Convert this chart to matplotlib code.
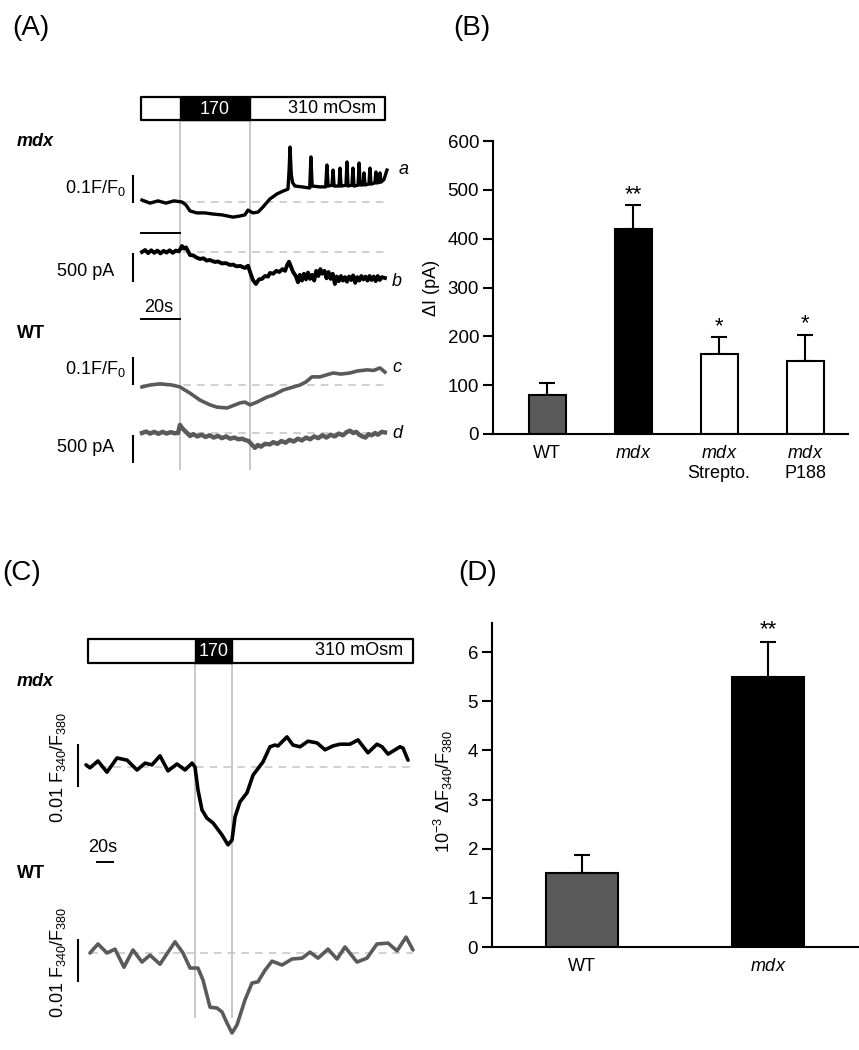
import numpy as np
import matplotlib.pyplot as plt

plt.rcParams['font.family'] = ['Liberation Sans', 'DejaVu Sans']
plt.rcParams['mathtext.fontset'] = 'custom'
plt.rcParams['mathtext.rm'] = 'Liberation Sans'
plt.rcParams['mathtext.it'] = 'Liberation Sans:italic'
plt.rcParams['mathtext.bf'] = 'Liberation Sans:bold'

W, H = 859, 1050
GREY = '#5a5a5a'
LIGHT = '#c4c4c4'
FS = 13

# ---------------- data ----------------
# panel A, time in s, fluorescence in F/F0, current in pA (relative to baseline)
solA = [-0.5, 18.5, 52.7, 118.5]   # bar start, 170 on, 170 off, bar end
ta = [0, 3.9, 7.8, 11.7, 15.6, 19.5, 21.5, 23.4, 26.8, 30.7, 34.6, 39, 44.4, 47.8,
      50.2, 51.7, 54.1, 56.6, 59, 62.4, 65.9, 68.8, 71.2, 71.8, 72.2, 72.8, 73.4, 74.6,
      78, 81.8, 82.4, 83.0, 86.8, 89.6, 90.2, 90.8, 92.7, 93.2, 93.7, 96.1, 96.6, 97.1,
      99.5, 100, 100.5, 102.4, 102.9, 103.4, 105.4, 105.9, 106.4, 107.8, 108.3, 108.8,
      110.7, 111.2, 111.7, 113.6, 114.1, 114.6, 115.6, 116.1, 116.6, 118, 119.5]
va = [0.007, -0.004, 0.004, -0.004, 0.004, 0, -0.011, -0.032, -0.039, -0.039, -0.043,
      -0.046, -0.054, -0.05, -0.046, -0.029, -0.039, -0.036, -0.018, 0.011, 0.029,
      0.039, 0.046, 0.12, 0.196, 0.1, 0.07, 0.057, 0.054, 0.05, 0.161, 0.057, 0.054,
      0.054, 0.132, 0.057, 0.06, 0.114, 0.057, 0.057, 0.121, 0.057, 0.06, 0.143, 0.057,
      0.06, 0.121, 0.057, 0.06, 0.139, 0.061, 0.061, 0.104, 0.061, 0.064, 0.121, 0.064,
      0.068, 0.107, 0.068, 0.07, 0.104, 0.071, 0.08, 0.114]
tb = [0, 1.5, 3, 4.5, 6, 7.5, 9, 10.5, 12, 13.5, 15, 16.5, 18, 19.5, 20.5, 21.5, 23.4,
      25, 26.5, 28.3, 30, 31.5, 33, 35.6, 37, 39, 41, 42.9, 44.5, 46, 48, 50.2, 51.7,
      53, 54.1, 55.6, 57, 58.5, 60, 61.5, 62.4, 64, 65.5, 67, 68.5, 69.8, 70.8, 71.7,
      72.7, 73.7, 75, 76.1, 77, 78, 79, 80, 81, 82, 83, 84, 85, 86, 87, 87.8, 89, 90,
      91, 92, 93, 94.1, 95, 96, 97, 98, 99, 100, 101, 102, 103, 104, 105, 106, 107,
      108, 109, 110, 111, 112, 113, 114, 115, 116, 117, 118.5]
vb = [0, 35, -20, 30, -15, 25, -25, 20, -10, 30, -15, 25, 10, 105, 60, 80, -52, -60,
      -95, -122, -110, -150, -140, -175, -165, -200, -195, -227, -220, -250, -245,
      -280, -240, -380, -490, -560, -480, -470, -420, -430, -367, -380, -330, -350,
      -300, -330, -230, -170, -260, -350, -420, -530, -400, -500, -380, -480, -360,
      -470, -400, -500, -330, -420, -300, -380, -330, -460, -350, -470, -380, -560,
      -430, -510, -420, -500, -440, -520, -430, -490, -410, -540, -440, -500, -420,
      -480, -430, -500, -420, -490, -430, -510, -420, -490, -440, -455]
tc = [0, 3.9, 8.8, 14.6, 18.5, 23.4, 28.3, 33.2, 36.6, 41.5, 45.4, 47.8, 50.2, 52.7,
      56.1, 61, 64, 68.8, 72, 77.1, 80, 82.9, 86.8, 90, 93.2, 97, 101.5, 105, 109.8,
      113, 116.1, 118.5]
vc = [-0.007, 0, 0.004, 0, -0.007, -0.029, -0.054, -0.071, -0.079, -0.082, -0.071,
      -0.064, -0.061, -0.071, -0.061, -0.043, -0.036, -0.018, -0.011, 0, 0.011, 0.029,
      0.029, 0.036, 0.043, 0.039, 0.043, 0.05, 0.054, 0.052, 0.061, 0.046]
td = [0, 2, 4, 6, 8, 10, 12, 14, 16, 17.6, 18.5, 19.5, 20.5, 22, 23.4, 25, 27, 29, 31,
      33, 35, 37, 39, 41, 43, 45, 47, 49, 50.2, 52, 53.5, 55.1, 56.5, 58, 60, 62.4, 64,
      66, 68, 70, 72, 74, 76, 78, 80, 82, 84, 86, 88, 90, 92, 94, 96, 98, 100, 101.5,
      103, 104.5, 106, 107.5, 109, 110.5, 112, 113.7, 115, 117, 118.5]
vd = [0, 25, -10, 20, -15, 20, -10, 15, -5, 0, 140, 90, 52, 0, -52, -20, -60, -30,
      -70, -40, -80, -50, -90, -60, -100, -80, -110, -100, -122, -140, -200, -260,
      -210, -240, -190, -200, -160, -190, -140, -170, -120, -150, -100, -130, -80,
      -110, -60, -90, -40, -80, -30, -60, -10, -40, 20, 40, 0, 20, -30, -60, -80, -20,
      -40, 0, -30, 20, 10]

# panel B
groupsB = ['WT', 'mdx', 'mdx\nStrepto.', 'mdx\nP188']
meanB = [80, 420, 163, 150]
semB = [25, 48, 35, 53]
sigB = ['', '**', '*', '*']

# panel C, time in s, ratio change in 1e-3 F340/F380
solC = [2.2, 121.1, 162.2, 363.3]
tm = [0, 4.4, 13.3, 23.3, 34.4, 45.6, 56.7, 65.6, 73.3, 82.2, 91.1, 101.1, 110, 117.8,
      121.1, 124.4, 128.9, 134.4, 141.1, 151.1, 157.8, 162.2, 165.6, 171.1, 178.9,
      185.6, 196.7, 204.4, 210, 213.3, 223.3, 230, 237.8, 246.7, 256.7, 265.6, 274.4,
      282.2, 293.3, 302.2, 313.3, 323.3, 328.9, 335.6, 348.9, 352.2, 357.8]
vm = [0.5, -0.2, 1.4, -1.2, 2.1, 1.6, -0.7, 0.9, 0.5, 2.6, -0.9, 0.7, -0.7, 0.9, 0,
      -5.3, -10, -11.9, -13, -15.8, -18.1, -17, -11.6, -8.1, -6, -1.9, 1.2, 4.7, 5.1,
      4.9, 7, 5.1, 4.7, 6, 5.6, 4, 4.9, 5.3, 5.3, 6.3, 3.3, 5.3, 4.7, 3, 4.7, 4.4, 1.6]
tw = [4.4, 13.3, 23.3, 32.2, 42.2, 52.2, 62.2, 71.1, 82.2, 98.9, 107.8, 115.6, 124.4,
      130, 137.8, 145.6, 151.1, 156.7, 162.2, 167.8, 176.7, 184.4, 191.1, 198.9, 206.7,
      217.8, 228.9, 240, 248.9, 257.8, 268.9, 278.9, 287.8, 301.1, 312.2, 323.3, 335.6,
      345.6, 355.6, 363.3]
vw = [0, 2.1, 0, 0.9, -3.3, 0.7, -2.1, -0.5, -2.6, 2.6, 0, -3.5, -3.5, -6.3, -12.6,
      -12.8, -13.7, -16.3, -18.6, -16.7, -10.9, -7, -6.7, -4, -1.9, -2.8, -1.4, -1.2,
      0.2, -1.2, 0.9, -1.4, 1.4, -2.1, -1.2, 2.1, 2.3, 0.5, 3.7, 0.7]

# panel D
groupsD = ['WT', 'mdx']
meanD = [1.5, 5.5]
semD = [0.38, 0.7]
sigD = ['', '**']

# ---------------- layout helpers ----------------
fig = plt.figure(figsize=(W / 100, H / 100), dpi=100)


def px_axes(x0, y0, x1, y1):
    ax = fig.add_axes([x0 / W, 1 - y1 / H, (x1 - x0) / W, (y1 - y0) / H])
    return ax


def bare(ax):
    ax.set_axis_off()
    ax.patch.set_alpha(0)
    return ax


def frame_ax(x0, y0, x1, y1, xorig, rate):
    # x in seconds, y in pixels (for the protocol bar etc.)
    ax = bare(px_axes(x0, y0, x1, y1))
    ax.set_xlim((x0 - xorig) / rate, (x1 - xorig) / rate)
    ax.set_ylim(y1, y0)
    return ax


def trace_ax(fr, y0, y1, base, ppu):
    # overlaid axes with same time axis, baseline 0 at pixel row `base`
    x0, x1 = fr.get_xlim()
    pos = fr.get_position()
    ax = bare(fig.add_axes(pos.bounds))
    ax.set_xlim(x0, x1)
    ax.set_ylim((base - y1) / ppu, (base - y0) / ppu)
    return ax


def protocol(fr, sol, ytop, ybot, vbot):
    s0, on, off, s1 = sol
    fr.fill_between([s0, s1], ytop, ybot, facecolor='white', edgecolor='black', lw=1.6, zorder=3)
    fr.fill_between([on, off], ytop, ybot, facecolor='black', edgecolor='black', lw=1.0, zorder=4)
    fr.text((on + off) / 2, (ytop + ybot) / 2 + 0.5, '170', color='white', ha='center',
            va='center', fontsize=FS, zorder=5)
    fr.vlines([on, off], ybot, vbot, color=LIGHT, lw=1.3, zorder=1)


# ---------------- panel A ----------------
frA = frame_ax(0, 50, 430, 480, 142, 2.05)
protocol(frA, solA, 97, 120, 470)
frA.text(solA[3] - 4.5, 108.5, '310 mOsm', ha='right', va='center', fontsize=FS, zorder=5)
frA.hlines([233, 319], -1, 19, color='black', lw=1.4)
frA.text(8.3, 307, '20s', ha='center', va='center', fontsize=FS)
frA.text(-61, 141, 'mdx', fontsize=FS, fontweight='bold', style='italic', va='center')
frA.text(-61, 333, 'WT', fontsize=FS, fontweight='bold', va='center')

specA = [(ta, va, 202, 280, 'black', 2.4, 'a', (-0.004, 0.096), r'0.1F/F$_0$', 188, 170, 1),
         (tb, vb, 252, 1 / 17.5, 'black', 2.8, 'b', (-520, -20), '500 pA', 272, 282, 0),
         (tc, vc, 385, 280, GREY, 2.6, 'c', (0, 0.1), r'0.1F/F$_0$', 369, 367, 0),
         (td, vd, 433, 1 / 17.5, GREY, 3.2, 'd', (-530, -30), '500 pA', 448, 434, 0)]
for t, v, base, ppu, col, lw, let, sb, slab, ylab, ylet, dx in specA:
    ax = trace_ax(frA, 50, 480, base, ppu)
    ax.hlines(0, t[0], t[-1], color=LIGHT, lw=1.1, linestyles=(0, (5, 4)), zorder=1)
    ax.plot(t, v, color=col, lw=lw, solid_joinstyle='round', zorder=2)
    ax.vlines(-4.4, sb[0], sb[1], color='black', lw=1.5)
    frA.text(t[-1] + 3.5 + dx * 2, ylet, let, fontsize=FS, style='italic', va='center')
    frA.text(-8.0 if 'F' in slab else -13.5, ylab, slab, fontsize=FS, ha='right', va='center')

# ---------------- panel B ----------------
axB = px_axes(493, 141, 848, 434)
xB = np.arange(len(groupsB))
axB.bar(xB, meanB, width=0.43, color=[GREY, 'black', 'white', 'white'],
        edgecolor='black', lw=1.5, zorder=2)
axB.errorbar(xB, meanB, yerr=[np.zeros(len(semB)), semB], fmt='none', ecolor='black',
             elinewidth=1.5, capsize=6, capthick=1.5, zorder=1)
for x, m, s, g in zip(xB, meanB, semB, sigB):
    if g:
        axB.annotate(g, (x, m + s), xytext=(0, 4), textcoords='offset points',
                     ha='center', va='baseline', fontsize=16)
axB.set_xlim(-0.63, 3.5)
axB.set_ylim(0, 600)
axB.set_yticks(range(0, 601, 100))
labB = ['WT', r'$\it{mdx}$', r'$\it{mdx}$' + '\nStrepto.', r'$\it{mdx}$' + '\nP188']
axB.set_xticks(xB)
axB.set_xticklabels(labB, linespacing=1.2)
axB.set_ylabel('ΔI (pA)', fontsize=FS)
axB.yaxis.set_label_coords(-0.15, 0.5)

# ---------------- panel C ----------------
frC = frame_ax(0, 560, 430, 1050, 86, 0.9)
protocol(frC, solC, 639, 663, 1018)
frC.text(solC[3] - 11, 651, '310 mOsm', ha='right', va='center', fontsize=FS, zorder=5)
frC.hlines(862, 11.1, 31.1, color='black', lw=1.4)
frC.text(18.9, 848, '20s', ha='center', va='center', fontsize=FS)
frC.text(-76.7, 682, 'mdx', fontsize=FS, fontweight='bold', style='italic', va='center')
frC.text(-76.7, 874, 'WT', fontsize=FS, fontweight='bold', va='center')

specC = [(tm, vm, 767, 4.3, 'black', (-4.65, 5.35), 767),
         (tw, vw, 953, 4.3, GREY, (-6.7, 3.3), 962)]
for t, v, base, ppu, col, sb, ylab in specC:
    ax = trace_ax(frC, 560, 1050, base, ppu)
    ax.hlines(0, t[0], 363.3, color=LIGHT, lw=1.1, linestyles=(0, (5, 4)), zorder=1)
    ax.plot(t, v, color=col, lw=2.6, solid_joinstyle='round', solid_capstyle='round', zorder=2)
    ax.vlines(-8.9, sb[0], sb[1], color='black', lw=1.5)
    frC.text(-31.1, ylab, r'0.01 F$_{340}$/F$_{380}$', rotation=90, fontsize=FS,
             ha='center', va='center')

# ---------------- panel D ----------------
axD = px_axes(492, 623, 858, 947)
xD = np.arange(len(groupsD))
axD.bar(xD, meanD, width=0.387, color=[GREY, 'black'], edgecolor='black', lw=1.5, zorder=2)
axD.errorbar(xD, meanD, yerr=[np.zeros(len(semD)), semD], fmt='none', ecolor='black',
             elinewidth=1.5, capsize=6, capthick=1.5, zorder=1)
for x, m, s, g in zip(xD, meanD, semD, sigD):
    if g:
        axD.annotate(g, (x, m + s), xytext=(0, 5), textcoords='offset points',
                     ha='center', va='baseline', fontsize=16)
axD.set_xlim(-0.484, 1.484)
axD.set_ylim(0, 6.59)
axD.set_yticks(range(0, 7))
axD.set_xticks(xD)
axD.set_xticklabels(['WT', r'$\it{mdx}$'])
axD.set_ylabel(r'10$^{-3}$ ΔF$_{340}$/F$_{380}$', fontsize=FS)
axD.yaxis.set_label_coords(-0.10, 0.48)

for ax in (axB, axD):
    for side in ('top', 'right'):
        ax.spines[side].set_visible(False)
    for side in ('left', 'bottom'):
        ax.spines[side].set_linewidth(1.5)
    ax.tick_params(axis='y', direction='out', length=7, width=1.5, labelsize=FS + 0.5, pad=3)
    ax.tick_params(axis='x', length=0, labelsize=FS, pad=8)
    ax.patch.set_alpha(0)

# panel letters
for lab, x, y in [('(A)', 31, 28), ('(B)', 472, 28), ('(C)', 22, 573), ('(D)', 478, 573)]:
    fig.text(x / W, 1 - y / H, lab, fontsize=20, ha='center', va='center')

fig.savefig('out.png', dpi=100)
